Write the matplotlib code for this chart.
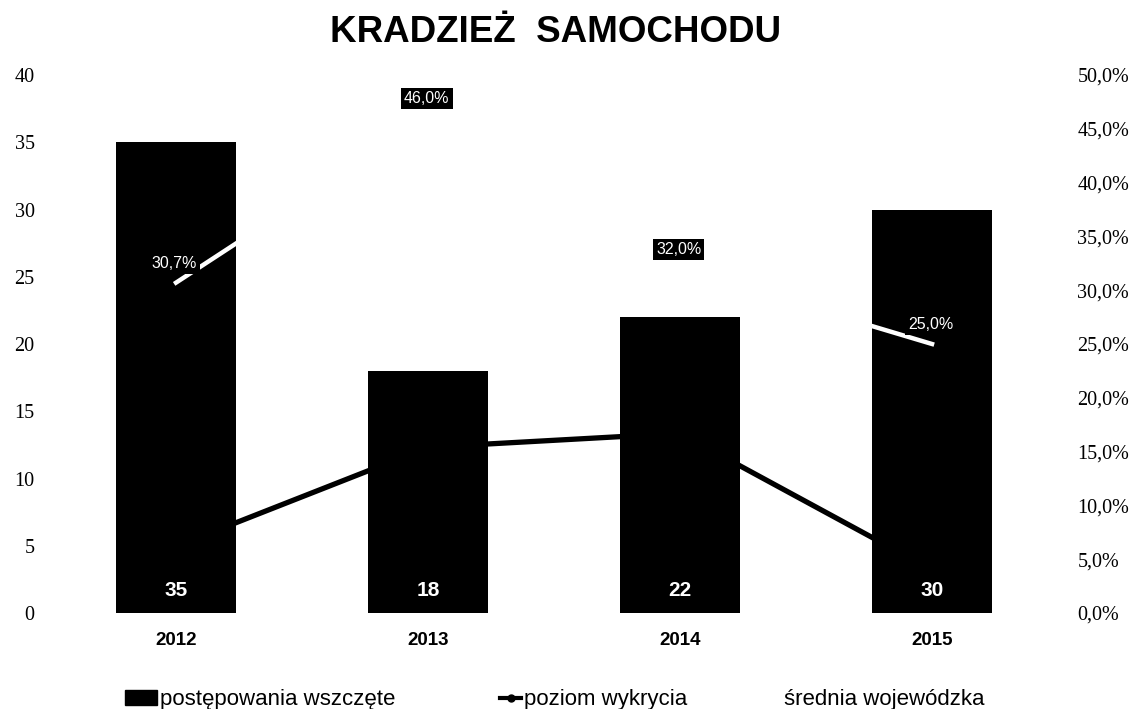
import matplotlib.pyplot as plt
from matplotlib.lines import Line2D
from matplotlib.patches import Patch
from matplotlib.ticker import FuncFormatter, MultipleLocator

# dane
lata = ['2012', '2013', '2014', '2015']
postepowania = [35, 18, 22, 30]
poziom_wykrycia = [6.2, 15.4, 16.7, 4.0]
srednia_woj = [30.7, 46.0, 32.0, 25.0]

fig = plt.figure(figsize=(11.31, 7.09), dpi=100)
fig.patch.set_facecolor('white')

# os procentowa pod slupkami (czarna linia chowa sie za slupkami)
ax2 = fig.add_axes([0.0442, 0.1354, 0.8913, 0.7588])
ax = ax2.twinx()
ax3 = ax2.twinx()
ax2.set_zorder(1)
ax.set_zorder(2)
ax3.set_zorder(3)
ax.patch.set_visible(False)
ax3.patch.set_visible(False)

x = list(range(len(lata)))

# slupki
bars = ax.bar(x, postepowania, width=0.476, color='black', zorder=2)
ax.set_ylim(0, 40)
ax.set_xlim(-0.5, 3.5)
ax.yaxis.set_major_locator(MultipleLocator(5))
ax.yaxis.tick_left()
ax.yaxis.set_label_position('left')

for xi, v in zip(x, postepowania):
    ax.annotate(str(v), xy=(xi, 0), xytext=(0, 16), textcoords='offset points',
                ha='center', va='center', color='white', fontsize=15,
                fontweight='bold', family='Liberation Sans')

# linie
ax2.plot(x, poziom_wykrycia, color='black', lw=3.8, marker='o', ms=4)
ax2.set_ylim(0, 50)
ax2.yaxis.tick_right()
ax2.yaxis.set_major_locator(MultipleLocator(5))
ax2.yaxis.set_major_formatter(FuncFormatter(lambda v, p: f'{v:.1f}%'.replace('.', ',')))

ax3.plot(x, srednia_woj, color='white', lw=3.2)
ax3.set_ylim(0, 50)
ax3.set_yticks([])
for xi, v in zip(x, srednia_woj):
    ax3.annotate(f'{v:.1f}%'.replace('.', ','), xy=(xi, v), xytext=(-1, 14),
                 textcoords='offset points', ha='center', va='center',
                 color='white', fontsize=11.5, family='Liberation Sans',
                 bbox=dict(boxstyle='square,pad=0.2', fc='black', ec='none'))

for a in (ax, ax2, ax3):
    for s in a.spines.values():
        s.set_visible(False)

ax.tick_params(axis='y', length=0, pad=11, labelsize=14.5)
ax2.tick_params(axis='y', length=0, pad=14, labelsize=14.5)
for lab in ax.get_yticklabels() + ax2.get_yticklabels():
    lab.set_family('Liberation Serif')

ax2.set_xticks(x)
ax2.set_xticklabels(lata, fontweight='bold', fontsize=13.5, family='Liberation Sans')
ax2.tick_params(axis='x', length=0, pad=14)
ax.tick_params(axis='x', length=0, labelbottom=False)
ax3.tick_params(axis='x', length=0, labelbottom=False)

fig.text(0.4915, 1 - 42 / 709, 'KRADZIEŻ  SAMOCHODU', ha='center', va='baseline',
         fontsize=26.5, fontweight='bold', family='Liberation Sans')

# legenda - trzy osobne wpisy
leg_kw = dict(frameon=False, borderpad=0, borderaxespad=0, loc='center left',
              prop={'family': 'Liberation Sans', 'size': 16}, handletextpad=0.12)
h1 = Patch(facecolor='black', edgecolor='black')
h2 = Line2D([], [], color='black', lw=3, marker='o', ms=5)
h3 = Line2D([], [], color='white', lw=3)
fig.legend([h1], ['postępowania wszczęte'], bbox_to_anchor=(125 / 1131, 0.013),
           handlelength=1.45, **leg_kw)
fig.legend([h2], ['poziom wykrycia'], bbox_to_anchor=(500 / 1131, 0.013),
           handlelength=0.95, **leg_kw)
fig.legend([h3], ['średnia wojewódzka'], bbox_to_anchor=(760 / 1131, 0.013),
           handlelength=0.95, **leg_kw)

fig.savefig('out.png', dpi=100, facecolor='white')
